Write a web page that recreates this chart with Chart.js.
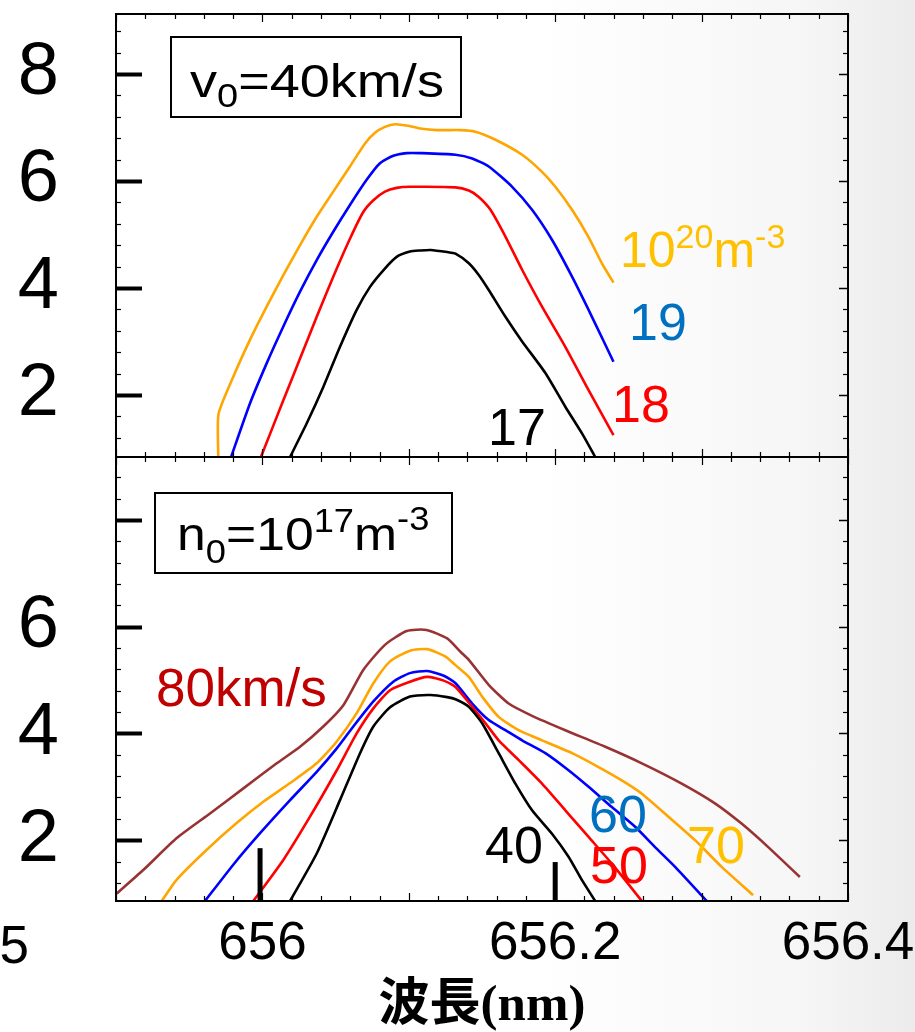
<!DOCTYPE html>
<html>
<head>
<meta charset="utf-8">
<script src="https://cdn.jsdelivr.net/npm/chart.js@4.4.1/dist/chart.umd.min.js"></script>
<style>
  html, body { margin: 0; padding: 0; }
  body {
    width: 915px; height: 1032px; overflow: hidden; position: relative;
    background: linear-gradient(to right, #ffffff 58%, #f6f6f6 88%, #ebebeb 100%);
  }
  canvas { position: absolute; left: 0; }
  #topChart { top: 0; }
  #bottomChart { top: 447px; }
</style>
</head>
<body>
<canvas id="topChart" width="915" height="470"></canvas>
<canvas id="bottomChart" width="915" height="585"></canvas>
<script>
// ---- data: top panel (v0 = 40 km/s, density varies) ----
var n20X = [655.9699, 655.9700, 655.9801, 655.9915, 656.0029, 656.0143, 656.0257, 656.0371, 656.0484, 656.0598, 656.0701, 656.0769, 656.0837, 656.0906, 656.0997, 656.1077, 656.1196, 656.1353, 656.1455, 656.1592, 656.1774, 656.1910, 656.2001, 656.2115, 656.2226, 656.2319, 656.2398];
var n20Y = [0.80, 1.64, 2.34, 3.03, 3.65, 4.24, 4.80, 5.33, 5.80, 6.27, 6.70, 6.90, 7.01, 7.06, 7.03, 6.98, 6.95, 6.95, 6.92, 6.77, 6.49, 6.17, 5.89, 5.46, 4.96, 4.46, 4.10];
var n19X = [655.9786, 655.9915, 656.0029, 656.0143, 656.0257, 656.0371, 656.0484, 656.0598, 656.0712, 656.0803, 656.0894, 656.0986, 656.1077, 656.1319, 656.1433, 656.1546, 656.1706, 656.1842, 656.1978, 656.2115, 656.2251, 656.2398];
var n19Y = [0.84, 1.84, 2.59, 3.28, 3.93, 4.52, 5.05, 5.55, 6.02, 6.33, 6.47, 6.52, 6.52, 6.49, 6.42, 6.27, 5.89, 5.46, 4.90, 4.21, 3.46, 2.62];
var n18X = [655.9990, 656.0143, 656.0257, 656.0371, 656.0484, 656.0598, 656.0689, 656.0758, 656.0837, 656.0917, 656.1008, 656.1319, 656.1410, 656.1478, 656.1558, 656.1660, 656.1774, 656.1910, 656.2069, 656.2228, 656.2398];
var n18Y = [0.84, 1.90, 2.68, 3.46, 4.21, 4.92, 5.42, 5.64, 5.80, 5.87, 5.89, 5.88, 5.82, 5.70, 5.46, 4.96, 4.34, 3.65, 2.90, 2.09, 1.25];
var n17X = [656.0189, 656.0303, 656.0416, 656.0530, 656.0644, 656.0735, 656.0826, 656.0917, 656.1008, 656.1077, 656.1149, 656.1262, 656.1319, 656.1410, 656.1478, 656.1546, 656.1660, 656.1774, 656.1933, 656.2069, 656.2183, 656.2273];
var n17Y = [0.84, 1.47, 2.15, 2.90, 3.59, 4.02, 4.33, 4.58, 4.68, 4.70, 4.71, 4.67, 4.64, 4.46, 4.24, 3.96, 3.46, 3.00, 2.41, 1.78, 1.28, 0.84];

// ---- data: bottom panel (n0 = 1e17 m^-3, velocity varies) ----
var v80X = [655.9005, 655.9186, 655.9415, 655.9642, 655.9870, 656.0098, 656.0257, 656.0416, 656.0553, 656.0689, 656.0837, 656.0986, 656.1121, 656.1262, 656.1353, 656.1410, 656.1546, 656.1682, 656.1842, 656.2069, 656.2342, 656.2592, 656.2864, 656.3091, 656.3273, 656.3455, 656.3671];
var v80Y = [1.00, 1.44, 2.04, 2.50, 2.97, 3.44, 3.75, 4.13, 4.53, 5.19, 5.66, 5.92, 5.94, 5.78, 5.53, 5.38, 4.91, 4.56, 4.33, 4.06, 3.75, 3.44, 3.06, 2.69, 2.31, 1.87, 1.31];
var v70X = [655.9312, 655.9415, 655.9620, 655.9824, 656.0006, 656.0189, 656.0371, 656.0508, 656.0644, 656.0758, 656.0872, 656.1008, 656.1126, 656.1251, 656.1319, 656.1410, 656.1501, 656.1614, 656.1751, 656.1910, 656.2115, 656.2296, 656.2455, 656.2592, 656.2773, 656.2955, 656.3137, 656.3352];
var v70Y = [0.86, 1.26, 1.82, 2.32, 2.72, 3.07, 3.44, 3.85, 4.38, 4.94, 5.35, 5.55, 5.58, 5.44, 5.28, 5.06, 4.69, 4.31, 4.06, 3.87, 3.63, 3.37, 3.12, 2.87, 2.44, 2.00, 1.50, 0.97];
var v60X = [655.9608, 655.9801, 655.9984, 656.0189, 656.0371, 656.0508, 656.0621, 656.0758, 656.0894, 656.1008, 656.1126, 656.1239, 656.1319, 656.1433, 656.1546, 656.1660, 656.1774, 656.1933, 656.2091, 656.2228, 656.2387, 656.2546, 656.2682, 656.2819, 656.3035];
var v60Y = [0.86, 1.54, 2.13, 2.75, 3.28, 3.72, 4.13, 4.60, 4.97, 5.13, 5.17, 5.08, 4.94, 4.56, 4.25, 4.06, 3.87, 3.63, 3.31, 3.00, 2.62, 2.25, 1.87, 1.50, 0.86];
var v50X = [655.9938, 656.0143, 656.0325, 656.0508, 656.0644, 656.0758, 656.0872, 656.1008, 656.1126, 656.1239, 656.1319, 656.1433, 656.1524, 656.1614, 656.1751, 656.1910, 656.2069, 656.2228, 656.2387, 656.2592];
var v50Y = [0.86, 1.63, 2.44, 3.31, 4.00, 4.47, 4.81, 4.97, 5.06, 4.99, 4.87, 4.50, 4.19, 3.87, 3.50, 3.06, 2.56, 2.06, 1.56, 0.86];
var v40X = [656.0189, 656.0371, 656.0530, 656.0667, 656.0758, 656.0872, 656.1008, 656.1149, 656.1262, 656.1319, 656.1410, 656.1501, 656.1614, 656.1728, 656.1842, 656.1978, 656.2091, 656.2183, 656.2273];
var v40Y = [0.86, 1.75, 2.75, 3.63, 4.13, 4.49, 4.69, 4.72, 4.68, 4.64, 4.50, 4.19, 3.63, 3.06, 2.56, 2.12, 1.69, 1.25, 0.86];

// 縦の目印 (656.0 と 656.2)
var markA = [655.9984, 655.9984];
var markAY = [0.86, 1.85];
var markB = [656.2, 656.2];
var markBY = [0.86, 1.59];

var xTicks = [656, 656.2, 656.4];
var topYLabels = [2, 4, 6, 8];
var bottomYLabels = [2, 4, 6];

function pts(xs, ys) {
  return xs.map(function(x, i) { return { x: x, y: ys[i] }; });
}

function line(xs, ys, color, width) {
  return {
    data: pts(xs, ys),
    borderColor: color,
    borderWidth: width || 2.6,
    pointRadius: 0,
    fill: false,
    tension: width ? 0 : 0.2
  };
}

// 枠と内向きの目盛りを描く
var frameTicks = {
  id: 'frameTicks',
  afterDatasetsDraw: function(chart) {
    var ctx = chart.ctx, a = chart.chartArea, x = chart.scales.x, y = chart.scales.y;
    ctx.save();
    ctx.strokeStyle = '#000';
    var k, p;
    for (k = Math.ceil(y.min / 0.4); k * 0.4 <= y.max + 1e-9; k++) {
      p = Math.round(y.getPixelForValue(k * 0.4)) + 0.5;
      var major = k % 5 === 0;
      ctx.lineWidth = major ? 4 : 1.2;
      ctx.beginPath();
      ctx.moveTo(a.left, p); ctx.lineTo(a.left + (major ? 26 : 5), p);
      ctx.stroke();
      ctx.lineWidth = major ? 1.5 : 1.2;
      ctx.beginPath();
      ctx.moveTo(a.right, p); ctx.lineTo(a.right - (major ? 9 : 5), p);
      ctx.stroke();
    }
    for (k = Math.ceil(x.min / 0.02 - 1e-6); k * 0.02 <= x.max + 1e-9; k++) {
      p = Math.round(x.getPixelForValue(k * 0.02)) + 0.5;
      var len = k % 5 === 0 ? 8 : 5;
      ctx.lineWidth = 1.2;
      ctx.beginPath();
      ctx.moveTo(p, a.top); ctx.lineTo(p, a.top + len);
      ctx.moveTo(p, a.bottom); ctx.lineTo(p, a.bottom - len);
      ctx.stroke();
    }
    ctx.lineWidth = 2;
    ctx.strokeRect(a.left, a.top, a.right - a.left, a.bottom - a.top);
    ctx.restore();
  }
};

// 注釈 (ページ座標, canvas の top を引く)
function notes(offsetTop, boxes, texts) {
  return {
    id: 'notes',
    afterDraw: function(chart) {
      var ctx = chart.ctx;
      ctx.save();
      ctx.translate(0, -offsetTop);
      boxes.forEach(function(b) {
        ctx.fillStyle = '#fff';
        ctx.fillRect(b[0], b[1], b[2] - b[0], b[3] - b[1]);
        ctx.lineWidth = 2;
        ctx.strokeStyle = '#000';
        ctx.strokeRect(b[0], b[1], b[2] - b[0], b[3] - b[1]);
      });
      texts.forEach(function(t) {
        ctx.save();
        ctx.translate(t.x, t.y);
        ctx.scale(t.sx || 1, 1);
        ctx.fillStyle = t.color || '#000';
        ctx.textBaseline = 'alphabetic';
        ctx.textAlign = t.align || 'left';
        var cx = 0;
        t.parts.forEach(function(part) {
          ctx.font = part[1] + 'px "Liberation Sans", Arial, sans-serif';
          ctx.fillText(part[0], cx, part[2] || 0);
          cx += ctx.measureText(part[0]).width;
        });
        ctx.restore();
      });
      ctx.restore();
    }
  };
}

function yScale(min, max, shown) {
  return {
    type: 'linear', min: min, max: max,
    grid: { display: false, drawTicks: false }, border: { display: false },
    ticks: {
      stepSize: 2, includeBounds: false, padding: 57, color: '#000',
      font: { family: '"Liberation Sans", Arial, sans-serif', size: 74 },
      callback: function(v) { return shown.indexOf(v) >= 0 ? String(v) : ''; }
    },
    afterFit: function(s) { s.width = 116; s.paddingTop = 0; s.paddingBottom = 0; }
  };
}

var common = {
  responsive: false,
  animation: false,
  events: [],
  plugins: { legend: { display: false }, tooltip: { enabled: false } }
};

new Chart(document.getElementById('topChart').getContext('2d'), {
  type: 'line',
  data: {
    datasets: [
      line(n17X, n17Y, '#000000'),
      line(n18X, n18Y, '#ff0000'),
      line(n19X, n19Y, '#0000ff'),
      line(n20X, n20Y, '#ffa500')
    ]
  },
  options: Object.assign({}, common, {
    layout: { padding: { top: 14, right: 67, bottom: 13, left: 0 } },
    scales: {
      x: { type: 'linear', min: 655.9, max: 656.4, display: false },
      y: yScale(0.84, 9.12, topYLabels)
    }
  }),
  plugins: [frameTicks, notes(0,
    [[171, 37, 461, 117]],
    [
      { x: 190, y: 97, sx: 1.15, parts: [['v', 47], ['0', 33, 10], ['=40km/s', 47]] },
      { x: 620, y: 267, color: '#ffc000', parts: [['10', 50], ['20', 34, -19], ['m', 50], ['-3', 34, -19]] },
      { x: 629, y: 340, color: '#0070c0', parts: [['19', 52]] },
      { x: 612, y: 422, color: '#ff0000', parts: [['18', 52]] },
      { x: 488, y: 445, color: '#000', parts: [['17', 52]] }
    ])]
});

new Chart(document.getElementById('bottomChart').getContext('2d'), {
  type: 'line',
  data: {
    datasets: [
      line(markA, markAY, '#000000', 5),
      line(markB, markBY, '#000000', 5),
      line(v40X, v40Y, '#000000'),
      line(v50X, v50Y, '#ff0000'),
      line(v60X, v60Y, '#0000ff'),
      line(v70X, v70Y, '#ffa500'),
      line(v80X, v80Y, '#993333')
    ]
  },
  options: Object.assign({}, common, {
    layout: { padding: { top: 10, right: 67, bottom: 0, left: 0 } },
    scales: {
      x: {
        type: 'linear', min: 655.9, max: 656.4,
        grid: { display: false, drawTicks: false }, border: { display: false },
        afterBuildTicks: function(s) { s.ticks = xTicks.map(function(v) { return { value: v }; }); },
        ticks: {
          padding: 12, color: '#000', maxRotation: 0,
          font: { family: '"Liberation Sans", Arial, sans-serif', size: 53 },
          callback: function(v) { return String(+v.toFixed(1)); }
        },
        title: {
          display: true, text: '波長(nm)', color: '#000',
          font: { family: '"Liberation Serif", "Noto Sans CJK JP", serif', size: 51, weight: 'bold', lineHeight: 1 },
          padding: { top: 0, bottom: 0 }
        },
        afterFit: function(s) { s.height = 131; s.paddingLeft = 0; s.paddingRight = 0; }
      },
      y: yScale(0.86, 9.18, bottomYLabels)
    }
  }),
  plugins: [frameTicks, notes(447,
    [[155, 493, 452, 573]],
    [
      { x: 177, y: 550, sx: 1.1, parts: [['n', 47], ['0', 33, 13], ['=10', 47], ['17', 33, -18], ['m', 47], ['-3', 33, -20]] },
      { x: 156, y: 706, color: '#c00000', parts: [['80km/s', 53]] },
      { x: 589, y: 832, color: '#0070c0', parts: [['60', 52]] },
      { x: 485, y: 863, color: '#000', parts: [['40', 52]] },
      { x: 590, y: 883, color: '#ff0000', parts: [['50', 52]] },
      { x: 687, y: 863, color: '#ffc000', parts: [['70', 52]] },
      { x: 29, y: 963, align: 'right', parts: [['5', 53]] }
    ])]
});
</script>
</body>
</html>
